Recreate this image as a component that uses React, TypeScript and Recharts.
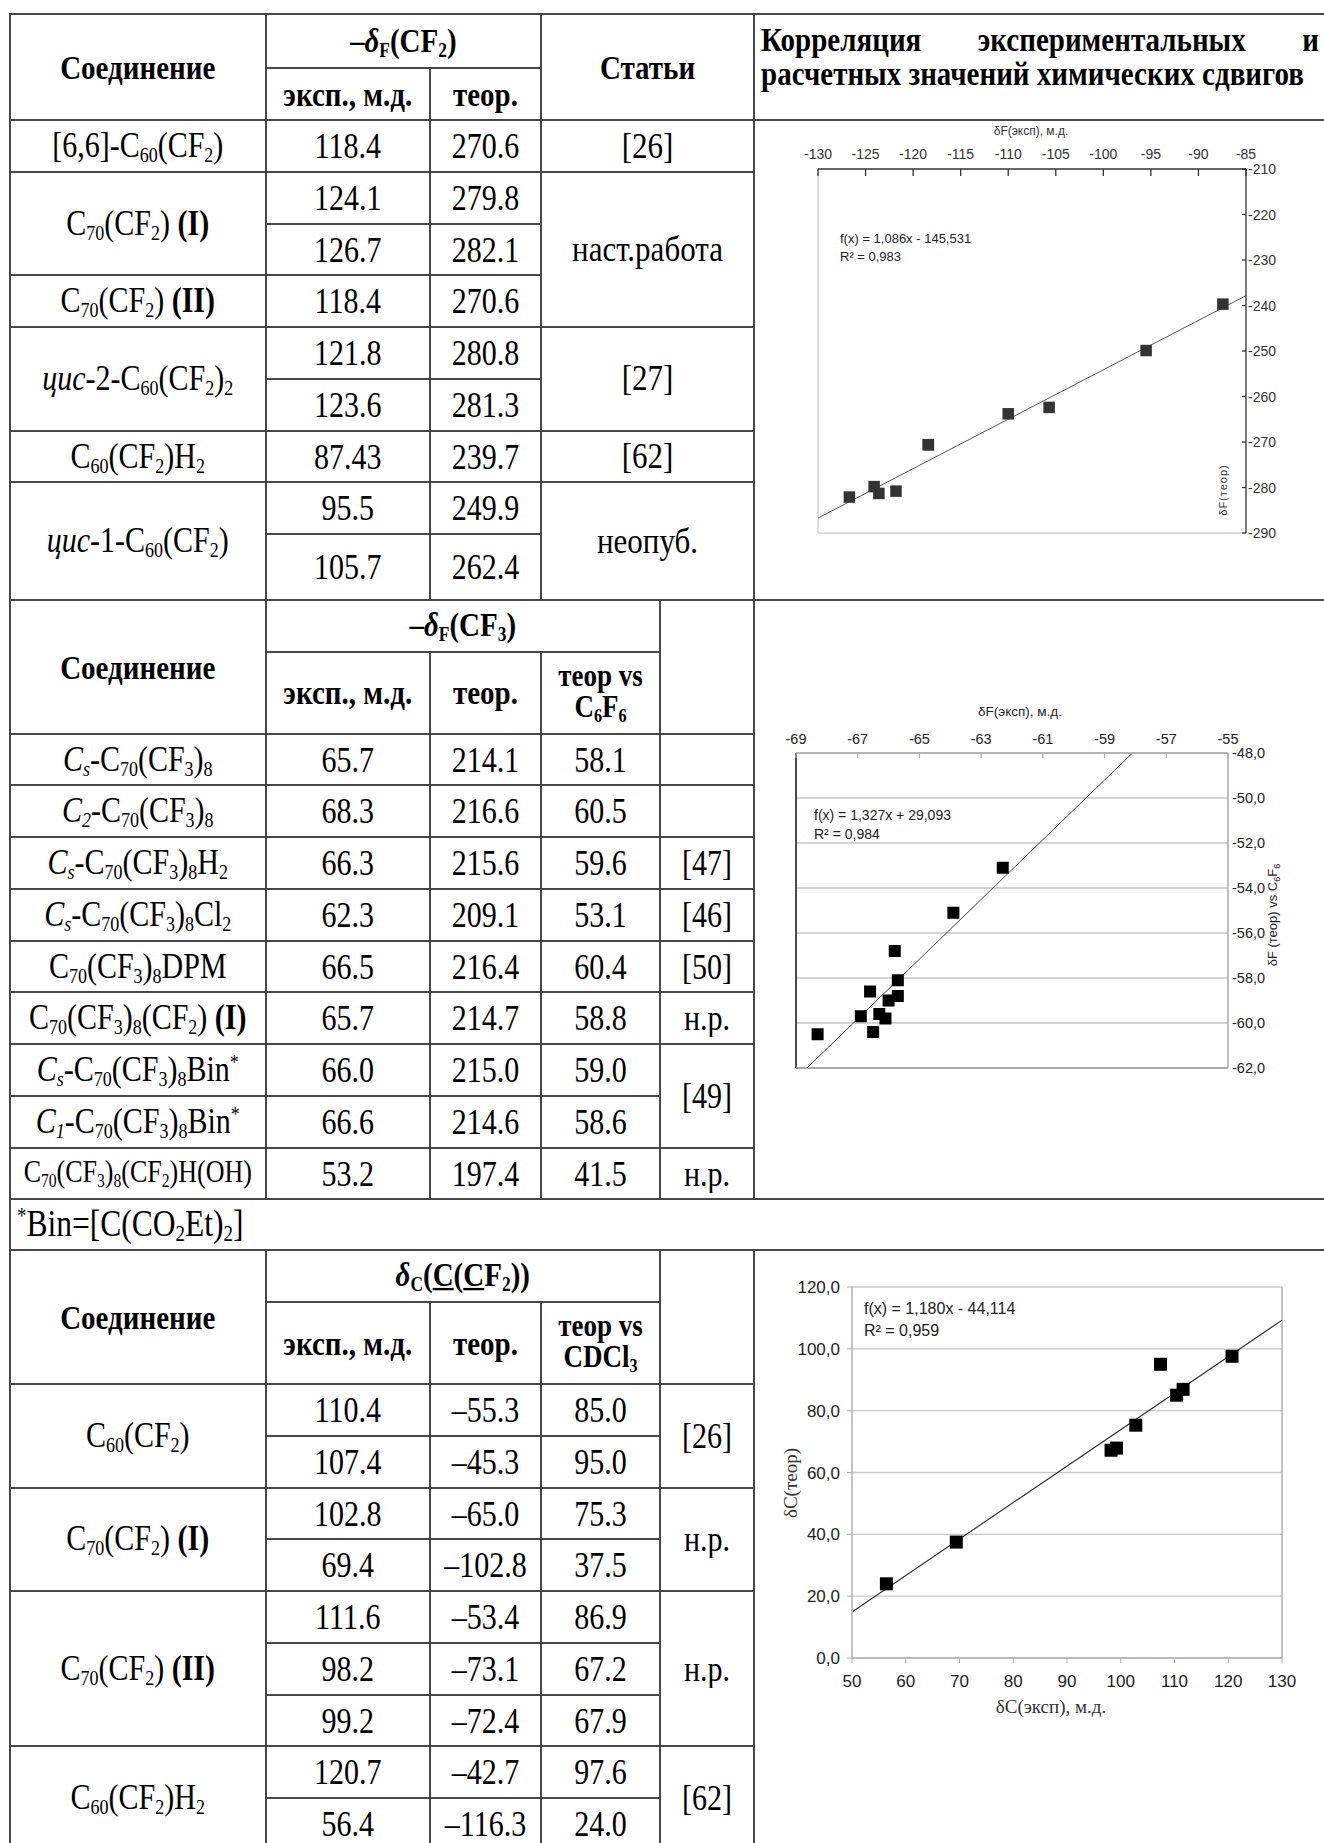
import React from 'react';
import { ScatterChart, Scatter, XAxis, YAxis, CartesianGrid, ReferenceLine } from 'recharts';

// ---------------- data ----------------
// Section 1: -δF(CF2)
const cf2Compounds = ['[6,6]-C_{60}(CF_2)', 'C_{70}(CF_2) !(I)!', 'C_{70}(CF_2) !(II)!', '~цис~-2-C_{60}(CF_2)_2', 'C_{60}(CF_2)H_2', '~цис~-1-C_{60}(CF_2)'];
const cf2CompoundSpans = [1, 2, 1, 2, 1, 2];
const cf2Exp = ['118.4', '124.1', '126.7', '118.4', '121.8', '123.6', '87.43', '95.5', '105.7'];
const cf2Theo = ['270.6', '279.8', '282.1', '270.6', '280.8', '281.3', '239.7', '249.9', '262.4'];
const cf2Refs = ['[26]', 'наст.работа', '[27]', '[62]', 'неопуб.'];
const cf2RefSpans = [1, 3, 2, 1, 2];

// Section 2: -δF(CF3)
const cf3Compounds = ['~C_s~-C_{70}(CF_3)_8', '~C_2~-C_{70}(CF_3)_8', '~C_s~-C_{70}(CF_3)_8H_2', '~C_s~-C_{70}(CF_3)_8Cl_2', 'C_{70}(CF_3)_8DPM', 'C_{70}(CF_3)_8(CF_2) !(I)!', '~C_s~-C_{70}(CF_3)_8Bin^*', '~C_1~-C_{70}(CF_3)_8Bin^*', 'C_{70}(CF_3)_8(CF_2)H(OH)'];
const cf3Exp = ['65.7', '68.3', '66.3', '62.3', '66.5', '65.7', '66.0', '66.6', '53.2'];
const cf3Theo = ['214.1', '216.6', '215.6', '209.1', '216.4', '214.7', '215.0', '214.6', '197.4'];
const cf3Vs = ['58.1', '60.5', '59.6', '53.1', '60.4', '58.8', '59.0', '58.6', '41.5'];
const cf3Refs = ['', '', '[47]', '[46]', '[50]', 'н.р.', '[49]', 'н.р.'];
const cf3RefSpans = [1, 1, 1, 1, 1, 1, 2, 1];
const footnote = '^*Bin=[C(CO_2Et)_2]';

// Section 3: δC(C(CF2))
const ccCompounds = ['C_{60}(CF_2)', 'C_{70}(CF_2) !(I)!', 'C_{70}(CF_2) !(II)!', 'C_{60}(CF_2)H_2'];
const ccCompoundSpans = [2, 2, 3, 2];
const ccExp = ['110.4', '107.4', '102.8', '69.4', '111.6', '98.2', '99.2', '120.7', '56.4'];
const ccTheo = ['–55.3', '–45.3', '–65.0', '–102.8', '–53.4', '–73.1', '–72.4', '–42.7', '–116.3'];
const ccVs = ['85.0', '95.0', '75.3', '37.5', '86.9', '67.2', '67.9', '97.6', '24.0'];
const ccRefs = ['[26]', 'н.р.', 'н.р.', '[62]'];
const ccRefSpans = [2, 2, 3, 2];

// Chart 1
const chart1X = [-126.7, -124.1, -123.6, -121.8, -118.4, -118.4, -110.0, -105.7, -95.5, -87.43];
const chart1Y = [-282.1, -279.8, -281.3, -280.8, -270.6, -270.6, -263.8, -262.4, -249.9, -239.7];
const chart1XTicks = [-130, -125, -120, -115, -110, -105, -100, -95, -90, -85];
const chart1YTicks = [-290, -280, -270, -260, -250, -240, -230, -220, -210];
const chart1Fit = { slope: 1.086, intercept: -145.531 };

// Chart 2
const chart2X = [-68.3, -62.3, -63.9, -65.8, -65.7, -65.7, -66.6, -66.0, -66.9, -66.3, -66.1, -66.5];
const chart2Y = [-60.5, -53.1, -55.1, -56.8, -58.1, -58.8, -58.6, -59.0, -59.7, -59.6, -59.8, -60.4];
const chart2XTicks = [-69, -67, -65, -63, -61, -59, -57, -55];
const chart2YTicks = [-62, -60, -58, -56, -54, -52, -50, -48];
const chart2Fit = { slope: 1.327, intercept: 29.093 };

// Chart 3
const chart3X = [110.4, 107.4, 102.8, 69.4, 111.6, 98.2, 99.2, 120.7, 56.4];
const chart3Y = [85.0, 95.0, 75.3, 37.5, 86.9, 67.2, 67.9, 97.6, 24.0];
const chart3XTicks = [50, 60, 70, 80, 90, 100, 110, 120, 130];
const chart3YTicks = [0, 20, 40, 60, 80, 100, 120];
const chart3Fit = { slope: 1.18, intercept: -44.114 };

// ---------------- helpers ----------------
const SERIF = '"Liberation Serif", "Times New Roman", serif';
const SANS = '"Liberation Sans", Arial, sans-serif';
const LINE = '#474747';
const STRETCH = 'scaleY(1.18)';

function rich(s: string): React.ReactNode[] {
  const out: React.ReactNode[] = [];
  let italic = false, bold = false, under = false, buf = '', key = 0;
  const st = () => ({
    fontStyle: italic ? 'italic' : undefined,
    fontWeight: bold ? 'bold' : undefined,
    textDecoration: under ? 'underline' : undefined,
  });
  const flush = () => {
    if (buf) { out.push(<span key={key++} style={st()}>{buf}</span>); buf = ''; }
  };
  for (let i = 0; i < s.length; i++) {
    const c = s[i];
    if (c === '~') { flush(); italic = !italic; continue; }
    if (c === '!') { flush(); bold = !bold; continue; }
    if (c === '§') { flush(); under = !under; continue; }
    if (c === '_' || c === '^') {
      flush();
      let t = '';
      if (s[i + 1] === '{') { const j = s.indexOf('}', i + 2); t = s.slice(i + 2, j); i = j; }
      else { t = s[i + 1]; i += 1; }
      out.push(
        <span key={key++} style={{ ...st(), fontSize: '0.6em', verticalAlign: c === '_' ? '-0.25em' : '0.55em' }}>{t}</span>
      );
      continue;
    }
    buf += c;
  }
  flush();
  return out;
}

type Cell = { x0: number; x1: number; y0: number; y1: number; text?: string; size?: number; bold?: boolean; left?: boolean; lh?: number; node?: React.ReactNode };

const X_L = 10, X_A = 265.5, X_B = 430, X_C = 541, X_D = 660, X_E = 754, X_R = 1330;
const S1_ROWS = [120, 171.75, 223.5, 275.25, 327, 378.75, 430.5, 482.25, 534, 600];
const S2_ROWS = [733.5, 785.25, 837, 888.75, 940.5, 992.25, 1044, 1095.75, 1147.5, 1199.25];
const S3_ROWS = [1384, 1435.75, 1487.5, 1539.25, 1591, 1642.75, 1694.5, 1746.25, 1798, 1849.75];

function spanCells(items: string[], spans: number[], x0: number, x1: number, rows: number[], size: number, sizeFor?: (i: number) => number): Cell[] {
  const cells: Cell[] = [];
  let r = 0;
  items.forEach((t, i) => {
    cells.push({ x0, x1, y0: rows[r], y1: rows[r + spans[i]], text: t, size: sizeFor ? sizeFor(i) : size });
    r += spans[i];
  });
  return cells;
}
const ones = (n: number) => Array.from({ length: n }, () => 1);

function trendSegment(fit: { slope: number; intercept: number }, xd: number[], yd: number[]) {
  const a = (yd[0] - fit.intercept) / fit.slope;
  const b = (yd[1] - fit.intercept) / fit.slope;
  const xa = Math.max(xd[0], Math.min(a, b));
  const xb = Math.min(xd[1], Math.max(a, b));
  return [
    { x: xa, y: fit.slope * xa + fit.intercept },
    { x: xb, y: fit.slope * xb + fit.intercept },
  ];
}

const comma = (v: number) => v.toFixed(1).replace('.', ',');

const square = (size: number, fill: string) => (p: any) => (
  <rect x={p.cx - size / 2} y={p.cy - size / 2} width={size} height={size} fill={fill} />
);

const makeTopTick = (mark: string, len: number, gap: number, size: number, fill: string) => (p: any) => (
  <g>
    <line x1={p.x} x2={p.x} y1={p.y} y2={p.y + len} stroke={mark} strokeWidth={1.3} />
    <text x={p.x} y={p.y - gap} textAnchor="middle" dominantBaseline="central" fontSize={size} fill={fill} fontFamily={SANS}>
      {p.payload.value}
    </text>
  </g>
);

const rightTick1 = (p: any) => (
  <g>
    <line x1={p.x - 4} x2={p.x} y1={p.y} y2={p.y} stroke="#333" strokeWidth={1.3} />
    <text x={p.x + 2} y={p.y} dominantBaseline="central" fontSize={14} fill="#333" fontFamily={SANS}>
      {p.payload.value}
    </text>
  </g>
);

function AbsText({ x, y, children, size, family = SANS, rotate = false, anchor = 'center', color = '#222', spacing }: any) {
  const tx = anchor === 'center' ? 'translate(-50%,-50%)' : 'translate(0,-50%)';
  return (
    <div
      style={{
        position: 'absolute', left: x, top: y, transform: tx + (rotate ? ' rotate(-90deg)' : ''),
        whiteSpace: 'nowrap', fontFamily: family, fontSize: size, color, lineHeight: 1, letterSpacing: spacing,
      }}
    >
      {children}
    </div>
  );
}

function CellView({ c }: { c: Cell }) {
  const lines = (c.text || '').split('\n');
  return (
    <div
      style={{
        position: 'absolute', left: c.x0 - 1, top: c.y0 - 1, width: c.x1 - c.x0 + 2, height: c.y1 - c.y0 + 2,
        border: `2px solid ${LINE}`, boxSizing: 'border-box', display: 'flex', alignItems: 'center',
        justifyContent: c.left ? 'flex-start' : 'center', paddingLeft: c.left ? 6 : 0,
        fontFamily: SERIF, fontSize: c.size, fontWeight: c.bold ? 'bold' : 'normal', textAlign: 'center', color: '#000',
      }}
    >
      {c.node ? c.node : lines.length > 1 ? (
        <div style={{ display: 'flex', flexDirection: 'column', alignItems: 'center', gap: c.lh ?? 0 }}>
          {lines.map((l, i) => (
            <span key={i} style={{ display: 'inline-block', transform: STRETCH, lineHeight: 1 }}>{rich(l)}</span>
          ))}
        </div>
      ) : (
        <span style={{ display: 'inline-block', transform: STRETCH, lineHeight: 1.12 }}>{rich(lines[0])}</span>
      )}
    </div>
  );
}

// ---------------- table layout ----------------
const titleNode = (
  <div style={{ position: 'absolute', left: 6, top: 0, width: 558, fontFamily: SERIF, fontSize: 29, fontWeight: 'bold' }}>
    <div style={{ position: 'absolute', top: 9.5, left: 0, right: 0, display: 'flex', justifyContent: 'space-between', transform: STRETCH, lineHeight: 1 }}>
      <span>Корреляция</span><span>экспериментальных</span><span>и</span>
    </div>
    <div style={{ position: 'absolute', top: 44, left: 0, right: 0, transform: STRETCH, lineHeight: 1, textAlign: 'left' }}>
      расчетных значений химических сдвигов
    </div>
  </div>
);

const HS = 29; // header font size
const cells: Cell[] = [
  // section 1 header
  { x0: X_L, x1: X_A, y0: 14, y1: 120, text: 'Соединение', size: HS, bold: true },
  { x0: X_A, x1: X_C, y0: 14, y1: 68, text: '–~δ~_F(CF_2)', size: HS, bold: true },
  { x0: X_A, x1: X_B, y0: 68, y1: 120, text: 'эксп., м.д.', size: HS, bold: true },
  { x0: X_B, x1: X_C, y0: 68, y1: 120, text: 'теор.', size: HS, bold: true },
  { x0: X_C, x1: X_E, y0: 14, y1: 120, text: 'Статьи', size: HS, bold: true },
  { x0: X_E, x1: X_R, y0: 14, y1: 120, node: titleNode },
  { x0: X_E, x1: X_R, y0: 120, y1: 600 },
  ...spanCells(cf2Compounds, cf2CompoundSpans, X_L, X_A, S1_ROWS, 30),
  ...spanCells(cf2Exp, ones(9), X_A, X_B, S1_ROWS, 30),
  ...spanCells(cf2Theo, ones(9), X_B, X_C, S1_ROWS, 30),
  ...spanCells(cf2Refs, cf2RefSpans, X_C, X_E, S1_ROWS, 31),
  // section 2 header
  { x0: X_L, x1: X_A, y0: 600, y1: 733.5, text: 'Соединение', size: HS, bold: true },
  { x0: X_A, x1: X_D, y0: 600, y1: 651.5, text: '–~δ~_F(CF_3)', size: HS, bold: true },
  { x0: X_A, x1: X_B, y0: 651.5, y1: 733.5, text: 'эксп., м.д.', size: HS, bold: true },
  { x0: X_B, x1: X_C, y0: 651.5, y1: 733.5, text: 'теор.', size: HS, bold: true },
  { x0: X_C, x1: X_D, y0: 651.5, y1: 733.5, text: 'теор vs\nC_6F_6', size: 27, bold: true, lh: 5 },
  { x0: X_D, x1: X_E, y0: 600, y1: 733.5 },
  { x0: X_E, x1: X_R, y0: 600, y1: 1199.25 },
  ...spanCells(cf3Compounds, ones(9), X_L, X_A, S2_ROWS, 30, (i) => (i === 8 ? 26 : 30)),
  ...spanCells(cf3Exp, ones(9), X_A, X_B, S2_ROWS, 30),
  ...spanCells(cf3Theo, ones(9), X_B, X_C, S2_ROWS, 30),
  ...spanCells(cf3Vs, ones(9), X_C, X_D, S2_ROWS, 30),
  ...spanCells(cf3Refs, cf3RefSpans, X_D, X_E, S2_ROWS, 30),
  { x0: X_L, x1: X_R, y0: 1199.25, y1: 1250, text: footnote, size: 31.5, left: true },
  // section 3 header
  { x0: X_L, x1: X_A, y0: 1250, y1: 1384, text: 'Соединение', size: HS, bold: true },
  { x0: X_A, x1: X_D, y0: 1250, y1: 1301.6, text: '~δ~_C(§C§(§C§F_2))', size: HS, bold: true },
  { x0: X_A, x1: X_B, y0: 1301.6, y1: 1384, text: 'эксп., м.д.', size: HS, bold: true },
  { x0: X_B, x1: X_C, y0: 1301.6, y1: 1384, text: 'теор.', size: HS, bold: true },
  { x0: X_C, x1: X_D, y0: 1301.6, y1: 1384, text: 'теор vs\nCDCl_3', size: 27, bold: true, lh: 5 },
  { x0: X_D, x1: X_E, y0: 1250, y1: 1384 },
  { x0: X_E, x1: X_R, y0: 1250, y1: 1860 },
  ...spanCells(ccCompounds, ccCompoundSpans, X_L, X_A, S3_ROWS, 30),
  ...spanCells(ccExp, ones(9), X_A, X_B, S3_ROWS, 30),
  ...spanCells(ccTheo, ones(9), X_B, X_C, S3_ROWS, 30),
  ...spanCells(ccVs, ones(9), X_C, X_D, S3_ROWS, 30),
  ...spanCells(ccRefs, ccRefSpans, X_D, X_E, S3_ROWS, 30),
];

// ---------------- charts ----------------
const toPoints = (xs: number[], ys: number[]) => xs.map((x, i) => ({ x, y: ys[i] }));

function Chart1() {
  const xd = [-130, -85], yd = [-290, -210];
  return (
    <div style={{ position: 'absolute', left: 770, top: 120 }}>
      <ScatterChart width={554} height={423} margin={{ top: 19, right: 18, bottom: 10, left: 48 }}>
        <XAxis type="number" dataKey="x" orientation="top" domain={xd} ticks={chart1XTicks} height={30}
          tickSize={0} tickMargin={0} tickLine={false} axisLine={{ stroke: '#333', strokeWidth: 1.3 }}
          tick={makeTopTick('#333', 7, 15, 14, '#333')} interval={0} />
        <YAxis type="number" dataKey="y" orientation="right" domain={yd} ticks={chart1YTicks} width={60}
          tickSize={0} tickMargin={0} tickLine={false} axisLine={{ stroke: '#333', strokeWidth: 1.3 }}
          tick={rightTick1} interval={0} />
        <ReferenceLine x={-130} stroke="#cfcfcf" strokeWidth={1.5} />
        <ReferenceLine y={-290} stroke="#cfcfcf" strokeWidth={1.5} />
        <ReferenceLine segment={trendSegment(chart1Fit, xd, yd)} stroke="#555" strokeWidth={1} ifOverflow="visible" />
        <Scatter data={toPoints(chart1X, chart1Y)} shape={square(11.5, '#333')} isAnimationActive={false} />
      </ScatterChart>
    </div>
  );
}

function Chart2() {
  const xd = [-69, -55], yd = [-62, -48];
  return (
    <div style={{ position: 'absolute', left: 770, top: 700 }}>
      <ScatterChart width={554} height={380} margin={{ top: 23, right: 36, bottom: 12, left: 26 }}>
        <CartesianGrid vertical={false} stroke="#c4c4c4" strokeWidth={1.3} />
        <XAxis type="number" dataKey="x" orientation="top" domain={xd} ticks={chart2XTicks} height={30}
          tickSize={0} tickMargin={0} tickLine={false} axisLine={{ stroke: '#aaa', strokeWidth: 1.5 }}
          tick={makeTopTick('#aaa', 5, 14, 14.5, '#222')} interval={0} />
        <YAxis type="number" dataKey="y" orientation="right" domain={yd} ticks={chart2YTicks} width={60}
          tickSize={0} tickMargin={4} tickLine={false} axisLine={{ stroke: '#aaa', strokeWidth: 1.5 }}
          tickFormatter={comma} tick={{ fontSize: 14.5, fill: '#222', fontFamily: SANS }} interval={0} />
        <ReferenceLine x={-69} stroke="#111" strokeWidth={1.5} />
        <ReferenceLine y={-62} stroke="#999" strokeWidth={1.5} />
        <ReferenceLine segment={trendSegment(chart2Fit, xd, yd)} stroke="#444" strokeWidth={1} ifOverflow="visible" />
        <Scatter data={toPoints(chart2X, chart2Y)} shape={square(12, '#000')} isAnimationActive={false} />
      </ScatterChart>
    </div>
  );
}

function Chart3() {
  const xd = [50, 130], yd = [0, 120];
  return (
    <div style={{ position: 'absolute', left: 770, top: 1270 }}>
      <ScatterChart width={554} height={438} margin={{ top: 17, right: 42, bottom: 10, left: 12 }}>
        <CartesianGrid vertical={false} stroke="#c8c8c8" strokeWidth={1.3} />
        <XAxis type="number" dataKey="x" domain={xd} ticks={chart3XTicks} height={40}
          tickSize={5} tickMargin={12} tickLine={{ stroke: '#b0b0b0' }} axisLine={{ stroke: '#b0b0b0', strokeWidth: 1.5 }}
          tick={{ fontSize: 17, fill: '#222', fontFamily: SANS }} interval={0} />
        <YAxis type="number" dataKey="y" domain={yd} ticks={chart3YTicks} width={70}
          tickSize={5} tickMargin={7} tickLine={{ stroke: '#b0b0b0' }} axisLine={{ stroke: '#b0b0b0', strokeWidth: 1.5 }}
          tickFormatter={comma} tick={{ fontSize: 17, fill: '#222', fontFamily: SANS }} interval={0} />
        <ReferenceLine x={130} stroke="#b0b0b0" strokeWidth={1.5} />
        <ReferenceLine segment={trendSegment(chart3Fit, xd, yd)} stroke="#333" strokeWidth={1.2} ifOverflow="visible" />
        <Scatter data={toPoints(chart3X, chart3Y)} shape={square(13, '#000')} isAnimationActive={false} />
      </ScatterChart>
    </div>
  );
}

export default function App() {
  return (
    <div style={{ position: 'absolute', left: 0, top: 0, width: 1324, height: 1843, overflow: 'hidden', background: '#fff' }}>
      {cells.map((c, i) => <CellView key={i} c={c} />)}
      <Chart1 />
      <Chart2 />
      <Chart3 />

      {/* chart 1 annotations */}
      <AbsText x={1031} y={131} size={12} color="#333">δF(эксп), м.д.</AbsText>
      <AbsText x={840} y={238} size={13} anchor="left">f(x) = 1,086x - 145,531</AbsText>
      <AbsText x={840} y={256} size={13} anchor="left">R² = 0,983</AbsText>
      <AbsText x={1223} y={490} size={11} rotate spacing={1} color="#333">δF(теор)</AbsText>

      {/* chart 2 annotations */}
      <AbsText x={1020} y={712} size={13.5}>δF(эксп), м.д.</AbsText>
      <AbsText x={814} y={815} size={14} anchor="left">f(x) = 1,327x + 29,093</AbsText>
      <AbsText x={814} y={834} size={14} anchor="left">R² = 0,984</AbsText>
      <AbsText x={1274} y={915} size={13} rotate>
        δF (теор) vs C<sub style={{ fontSize: '0.7em' }}>6</sub>F<sub style={{ fontSize: '0.7em' }}>6</sub>
      </AbsText>

      {/* chart 3 annotations */}
      <AbsText x={864} y={1309} size={16} anchor="left">f(x) = 1,180x - 44,114</AbsText>
      <AbsText x={864} y={1331} size={16} anchor="left">R² = 0,959</AbsText>
      <AbsText x={1051} y={1706} size={19} family={SERIF} color="#333">δC(эксп), м.д.</AbsText>
      <AbsText x={790} y={1483} size={19} family={SERIF} rotate color="#333">δC(теор)</AbsText>
    </div>
  );
}
